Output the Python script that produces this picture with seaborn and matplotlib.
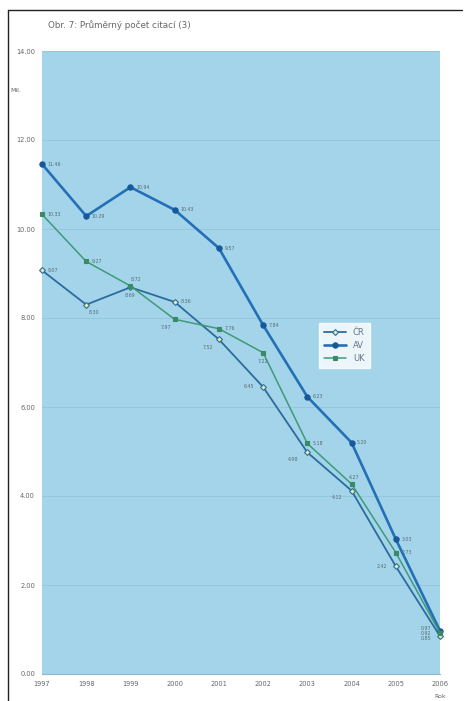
import matplotlib
matplotlib.use("Agg")
import matplotlib.pyplot as plt
import seaborn as sns
import pandas as pd
from matplotlib.lines import Line2D

# data
roky = [1997, 1998, 1999, 2000, 2001, 2002, 2003, 2004, 2005, 2006]
cr = [9.07, 8.30, 8.69, 8.36, 7.52, 6.45, 4.98, 4.12, 2.42, 0.85]
av = [11.46, 10.29, 10.94, 10.43, 9.57, 7.84, 6.23, 5.20, 3.03, 0.97]
uk = [10.33, 9.27, 8.72, 7.97, 7.76, 7.22, 5.18, 4.27, 2.73, 0.92]
serie = ["ČR", "AV", "UK"]

df = pd.DataFrame({"rok": roky * 3,
                   "hodnota": cr + av + uk,
                   "serie": [s for s in serie for _ in roky]})

sns.set_style("white")
plt.rcParams["font.family"] = ["DejaVu Sans"]

fig = plt.figure(figsize=(4.67, 7.01), dpi=100)
fig.patch.set_facecolor("white")
ax = fig.add_axes([42 / 467, 1 - 674 / 701, 398 / 467, 623 / 701])
ax.set_facecolor("#a3d4ea")

# styl jednotlivych rad
styl = {
    "ČR": dict(color="#2b6c9c", lw=1.3, marker="D", ms=3.0, mfc="#e9ecb0", mec="#2b6c9c"),
    "AV": dict(color="#2470b6", lw=1.9, marker="o", ms=3.8, mfc="#17589a", mec="#17589a"),
    "UK": dict(color="#3f9a78", lw=1.1, marker="s", ms=2.6, mfc="#3a8a68", mec="#3a8a68"),
}

for s in serie:
    st = styl[s]
    sns.lineplot(data=df[df.serie == s], x="rok", y="hodnota", ax=ax,
                 color=st["color"], linewidth=st["lw"], marker=st["marker"],
                 markersize=st["ms"], markerfacecolor=st["mfc"],
                 markeredgecolor=st["mec"], markeredgewidth=0.8,
                 label=s, clip_on=False, zorder=3)

# popisky hodnot (posun v bodech)
posun = {
    "ČR": [(4, 0), (2, -6), (-4, -6), (4, 0), (-12, -6), (-14, 0), (-14, -5), (-14, -5), (-14, 0), (-14, -2)],
    "AV": [(4, 0)] * 9 + [(-14, 2)],
    "UK": [(4, 0), (4, 0), (0, 5), (-10, -6), (4, 0), (-4, -6), (4, 0), (-2, 5), (4, 0), (-14, 0)],
}
for s, vals in zip(serie, [cr, av, uk]):
    for i, (x, y) in enumerate(zip(roky, vals)):
        ax.annotate(f"{y:.2f}", (x, y), xytext=posun[s][i], textcoords="offset points",
                    fontsize=3.4, color="#5a6a72", va="center", ha="left")

ax.set_xlim(1997, 2006)
ax.set_ylim(0, 14)
ax.set_xticks(roky)
ax.set_xticklabels([str(r) for r in roky])
ax.set_yticks([0, 2, 4, 6, 8, 10, 12, 14])
ax.set_yticklabels([f"{v:.2f}" for v in range(0, 15, 2)])
ax.tick_params(labelsize=4.8, labelcolor="#666666", length=2, color="#888888", pad=3)
ax.grid(axis="y", color="#92c5dc", linewidth=0.6)
for sp in ax.spines.values():
    sp.set_visible(False)
ax.spines["bottom"].set_visible(True)
ax.spines["bottom"].set_color("#8fb8c8")
ax.set_xlabel("")
ax.set_ylabel("")

leg = ax.legend(loc="center", bbox_to_anchor=(0.76, 0.527), fontsize=6,
                frameon=True, fancybox=False, handlelength=2.6,
                labelspacing=0.5, borderpad=0.6, labelcolor="#667788")
leg.get_frame().set_facecolor("white")
leg.get_frame().set_edgecolor("white")

fig.text(48 / 467, 1 - 25 / 701, "Obr. 7: Průměrný počet citací (3)",
         fontsize=6.3, color="#666666", va="center")
fig.text(10 / 467, 1 - 90 / 701, "Mil.", fontsize=4.5, color="#666666", va="center")
fig.text(440 / 467, 1 - 696 / 701, "Rok", fontsize=4.5, color="#666666",
         va="center", ha="center")

# ramecek skenu
fig.add_artist(Line2D([8 / 467, 8 / 467], [0, 1 - 10 / 701], color="#222222", lw=1.0))
fig.add_artist(Line2D([8 / 467, 462 / 467], [1 - 10 / 701, 1 - 10 / 701], color="#222222", lw=1.0))

fig.savefig("out.png", dpi=100)
